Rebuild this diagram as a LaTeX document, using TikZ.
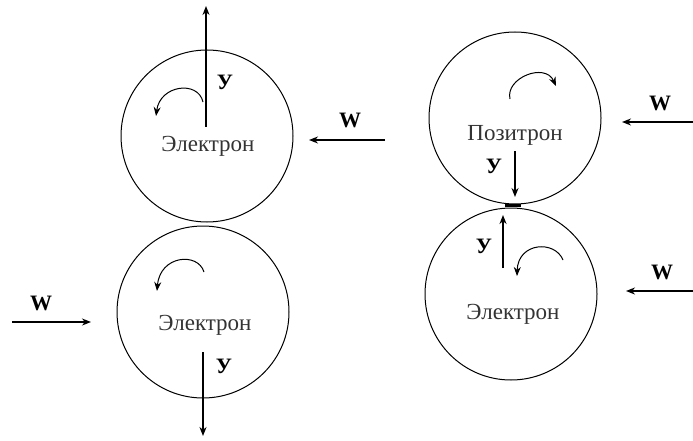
\documentclass[tikz,border=0pt]{standalone}
\usepackage{fontspec}
\setmainfont{Liberation Serif}
\usetikzlibrary{arrows.meta}
\tikzset{
  particle/.style={draw, circle, minimum size=172pt, inner sep=0pt, line width=1pt},
  ptext/.style={font=\fontsize{23}{26}\selectfont, text=black!80},
  vlabel/.style={font=\fontsize{22}{24}\selectfont\bfseries},
  move/.style={->, line width=1.6pt},
  spin/.style={->, line width=1pt}
}
\begin{document}
\begin{tikzpicture}[x=1pt,y=-1pt,>={Stealth[length=9pt,width=7pt]}]
\useasboundingbox (0,0) rectangle (693,441);
% particles
\node[particle] (e1) at (207,136) {};
\node[particle] (e2) at (203,312) {};
\node[particle] (p1) at (515,118) {};
\node[particle] (e3) at (511,294) {};
\node[ptext] (n1) at (208,146) {Электрон};
\node[ptext] (n2) at (205,325) {Электрон};
\node[ptext] (n3) at (515,135) {Позитрон};
\node[ptext] (n4) at (513,314) {Электрон};
% contact
\draw[line width=3pt] (505,205) -- (521,205);
% velocities
\coordinate (v1a) at (206,127); \coordinate (v1b) at (206,6);
\coordinate (v2a) at (203,352); \coordinate (v2b) at (203,436);
\coordinate (v3a) at (515,151); \coordinate (v3b) at (515,197);
\coordinate (v4a) at (503,268); \coordinate (v4b) at (503,215);
\draw[move] (v1a) -- (v1b);
\draw[move] (v2a) -- (v2b);
\draw[move] (v3a) -- (v3b);
\draw[move] (v4a) -- (v4b);
\node[vlabel] (y1) at (225,82) {У};
\node[vlabel] (y2) at (224,366) {У};
\node[vlabel] (y3) at (494,166) {У};
\node[vlabel] (y4) at (484,246) {У};
% spins
\coordinate (s1a) at (203,102); \coordinate (s1b) at (156,116);
\coordinate (s2a) at (204,272); \coordinate (s2b) at (157,291);
\coordinate (s3a) at (510,99);  \coordinate (s3b) at (556,86);
\coordinate (s4a) at (563,260); \coordinate (s4b) at (517,276);
\draw[spin] (s1a) .. controls (198,80) and (160,85) .. (s1b);
\draw[spin] (s2a) .. controls (198,252) and (160,255) .. (s2b);
\draw[spin] (s3a) .. controls (505,78) and (545,62) .. (s3b);
\draw[spin] (s4a) .. controls (555,240) and (518,242) .. (s4b);
% external field
\coordinate (w1a) at (385,140); \coordinate (w1b) at (309,140);
\coordinate (w2a) at (12,322);  \coordinate (w2b) at (91,322);
\coordinate (w3a) at (693,122); \coordinate (w3b) at (622,122);
\coordinate (w4a) at (693,291); \coordinate (w4b) at (626,291);
\draw[move] (w1a) -- (w1b);
\draw[move] (w2a) -- (w2b);
\draw[move] (w3a) -- (w3b);
\draw[move] (w4a) -- (w4b);
\node[vlabel] (wl1) at (350,120) {W};
\node[vlabel] (wl2) at (41,303) {W};
\node[vlabel] (wl3) at (660,103) {W};
\node[vlabel] (wl4) at (662,272) {W};
\end{tikzpicture}
\end{document}
